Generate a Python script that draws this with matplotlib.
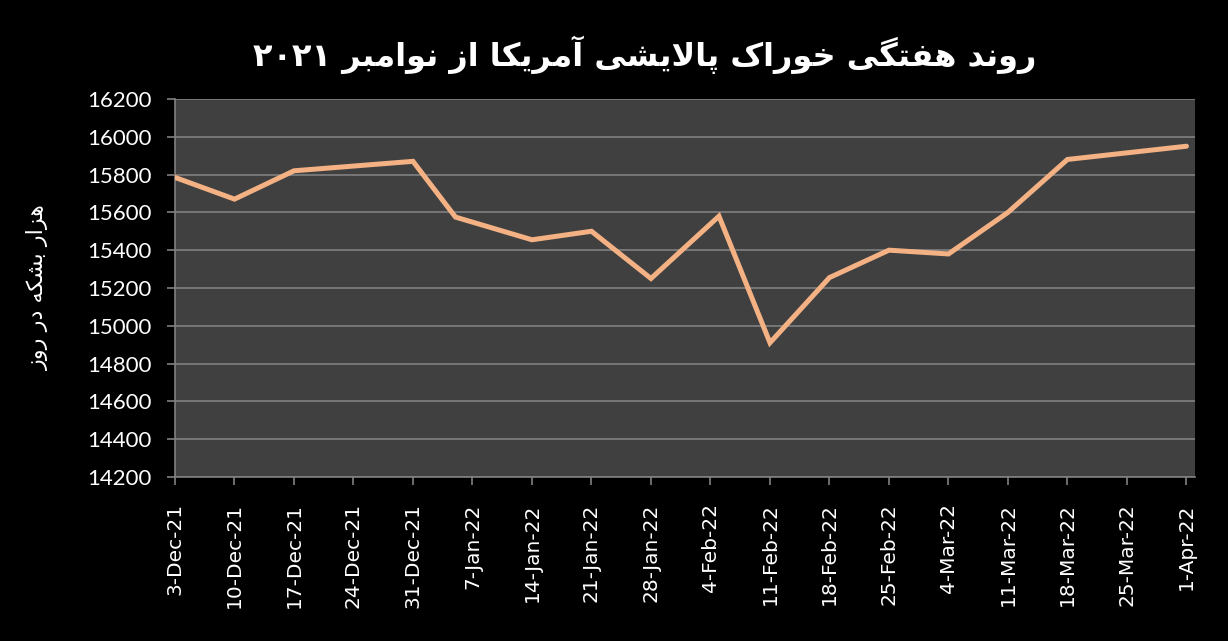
import re
import pandas as pd
import matplotlib
matplotlib.use("Agg")
import matplotlib.pyplot as plt

# weekly US refinery input, thousand barrels per day
DATES = ["2021-12-03", "2021-12-10", "2021-12-17", "2021-12-31", "2022-01-05",
         "2022-01-14", "2022-01-21", "2022-01-28", "2022-02-05", "2022-02-11",
         "2022-02-18", "2022-02-25", "2022-03-04", "2022-03-11", "2022-03-18",
         "2022-04-01"]
VALUES = [15785, 15670, 15820, 15870, 15575, 15455, 15500, 15250, 15580, 14910,
          15255, 15400, 15380, 15600, 15880, 15950]

TICK_LABELS = ["3-Dec-21", "10-Dec-21", "17-Dec-21", "24-Dec-21", "31-Dec-21",
               "7-Jan-22", "14-Jan-22", "21-Jan-22", "28-Jan-22", "4-Feb-22",
               "11-Feb-22", "18-Feb-22", "25-Feb-22", "4-Mar-22", "11-Mar-22",
               "18-Mar-22", "25-Mar-22", "1-Apr-22"]
Y_TICKS = [14200, 14400, 14600, 14800, 15000, 15200, 15400, 15600, 15800, 16000, 16200]

TITLE = "روند هفتگی خوراک پالایشی آمریکا از نوامبر ۲۰۲۱"
Y_LABEL = "هزار بشکه در روز"

# matplotlib has no Arabic shaping, so pick presentation forms by hand
# (isolated, final, initial, medial); two entries = right-joining only
FORMS = {
    "ا": ("\uFE8D", "\uFE8E"), "آ": ("\uFE81", "\uFE82"),
    "ب": ("\uFE8F", "\uFE90", "\uFE91", "\uFE92"), "پ": ("\uFB56", "\uFB57", "\uFB58", "\uFB59"),
    "ت": ("\uFE95", "\uFE96", "\uFE97", "\uFE98"), "ث": ("\uFE99", "\uFE9A", "\uFE9B", "\uFE9C"),
    "ج": ("\uFE9D", "\uFE9E", "\uFE9F", "\uFEA0"), "چ": ("\uFB7A", "\uFB7B", "\uFB7C", "\uFB7D"),
    "ح": ("\uFEA1", "\uFEA2", "\uFEA3", "\uFEA4"), "خ": ("\uFEA5", "\uFEA6", "\uFEA7", "\uFEA8"),
    "د": ("\uFEA9", "\uFEAA"), "ذ": ("\uFEAB", "\uFEAC"), "ر": ("\uFEAD", "\uFEAE"),
    "ز": ("\uFEAF", "\uFEB0"), "ژ": ("\uFB8A", "\uFB8B"),
    "س": ("\uFEB1", "\uFEB2", "\uFEB3", "\uFEB4"), "ش": ("\uFEB5", "\uFEB6", "\uFEB7", "\uFEB8"),
    "ف": ("\uFED1", "\uFED2", "\uFED3", "\uFED4"), "ق": ("\uFED5", "\uFED6", "\uFED7", "\uFED8"),
    "ک": ("\uFB8E", "\uFB8F", "\uFB90", "\uFB91"), "گ": ("\uFB92", "\uFB93", "\uFB94", "\uFB95"),
    "ل": ("\uFEDD", "\uFEDE", "\uFEDF", "\uFEE0"), "م": ("\uFEE1", "\uFEE2", "\uFEE3", "\uFEE4"),
    "ن": ("\uFEE5", "\uFEE6", "\uFEE7", "\uFEE8"), "ه": ("\uFEE9", "\uFEEA", "\uFEEB", "\uFEEC"),
    "و": ("\uFEED", "\uFEEE"), "ی": ("\uFBFC", "\uFBFD", "\uFBFE", "\uFBFF"),
}
LAM_ALEF = {"ا": ("\uFEFB", "\uFEFC"), "آ": ("\uFEF5", "\uFEF6")}


def shape(text):
    out = []
    i, n = 0, len(text)
    while i < n:
        c = text[i]
        if c not in FORMS:
            out.append(c)
            i += 1
            continue
        prev = text[i - 1] if i > 0 else None
        prev_joins = prev in FORMS and len(FORMS[prev]) == 4
        if c == "ل" and i + 1 < n and text[i + 1] in LAM_ALEF:
            iso, fin = LAM_ALEF[text[i + 1]]
            out.append(fin if prev_joins else iso)
            i += 2
            continue
        nxt = text[i + 1] if i + 1 < n else None
        f = FORMS[c]
        next_joins = len(f) == 4 and nxt in FORMS
        if prev_joins and next_joins:
            out.append(f[3])
        elif prev_joins:
            out.append(f[1])
        elif next_joins:
            out.append(f[2])
        else:
            out.append(f[0])
        i += 1
    rev = "".join(out)[::-1]
    # digits stay left-to-right
    return re.sub(r"[0-9\u06F0-\u06F9]+", lambda m: m.group()[::-1], rev)


dates = pd.to_datetime(DATES)
tick_dates = pd.to_datetime(TICK_LABELS, format="%d-%b-%y")

LINE = "#F4B183"
GRID = "#808080"

fig = plt.figure(figsize=(12.28, 6.41), dpi=100, facecolor="black")
ax = fig.add_axes([0.1425, 0.2559, 0.8306, 0.5897])
ax.set_facecolor("#404040")

ax.plot(dates, VALUES, color=LINE, lw=3.6, solid_joinstyle="miter",
        solid_capstyle="round", zorder=3)

ax.set_ylim(14200, 16200)
ax.set_yticks(Y_TICKS)
ax.set_xlim(tick_dates[0], tick_dates[-1] + pd.Timedelta(days=1))
ax.set_xticks(tick_dates)
ax.set_xticklabels(TICK_LABELS, rotation=90, fontsize=14.5, color="white",
                   family="DejaVu Sans")
ax.set_yticklabels([str(v) for v in Y_TICKS], fontsize=16, color="white",
                   family="Lato")

ax.grid(axis="y", color=GRID, lw=1.2)
ax.set_axisbelow(True)
for side in ("top", "right"):
    ax.spines[side].set_visible(False)
for side in ("left", "bottom"):
    ax.spines[side].set_color(GRID)
    ax.spines[side].set_linewidth(1.2)
ax.tick_params(axis="both", colors=GRID, length=6, width=1.2)
ax.tick_params(axis="y", pad=11, labelcolor="white")
ax.tick_params(axis="x", pad=13, labelcolor="white")

fig.text(0.525, 0.914, shape(TITLE), ha="center", va="center", color="white",
         fontsize=23, fontweight="bold", family=["DejaVu Sans"])
fig.text(0.031, 0.552, shape(Y_LABEL), ha="center", va="center", rotation=90,
         color="white", fontsize=16, family=["DejaVu Sans"])

fig.savefig("out.png", dpi=100, facecolor="black")
